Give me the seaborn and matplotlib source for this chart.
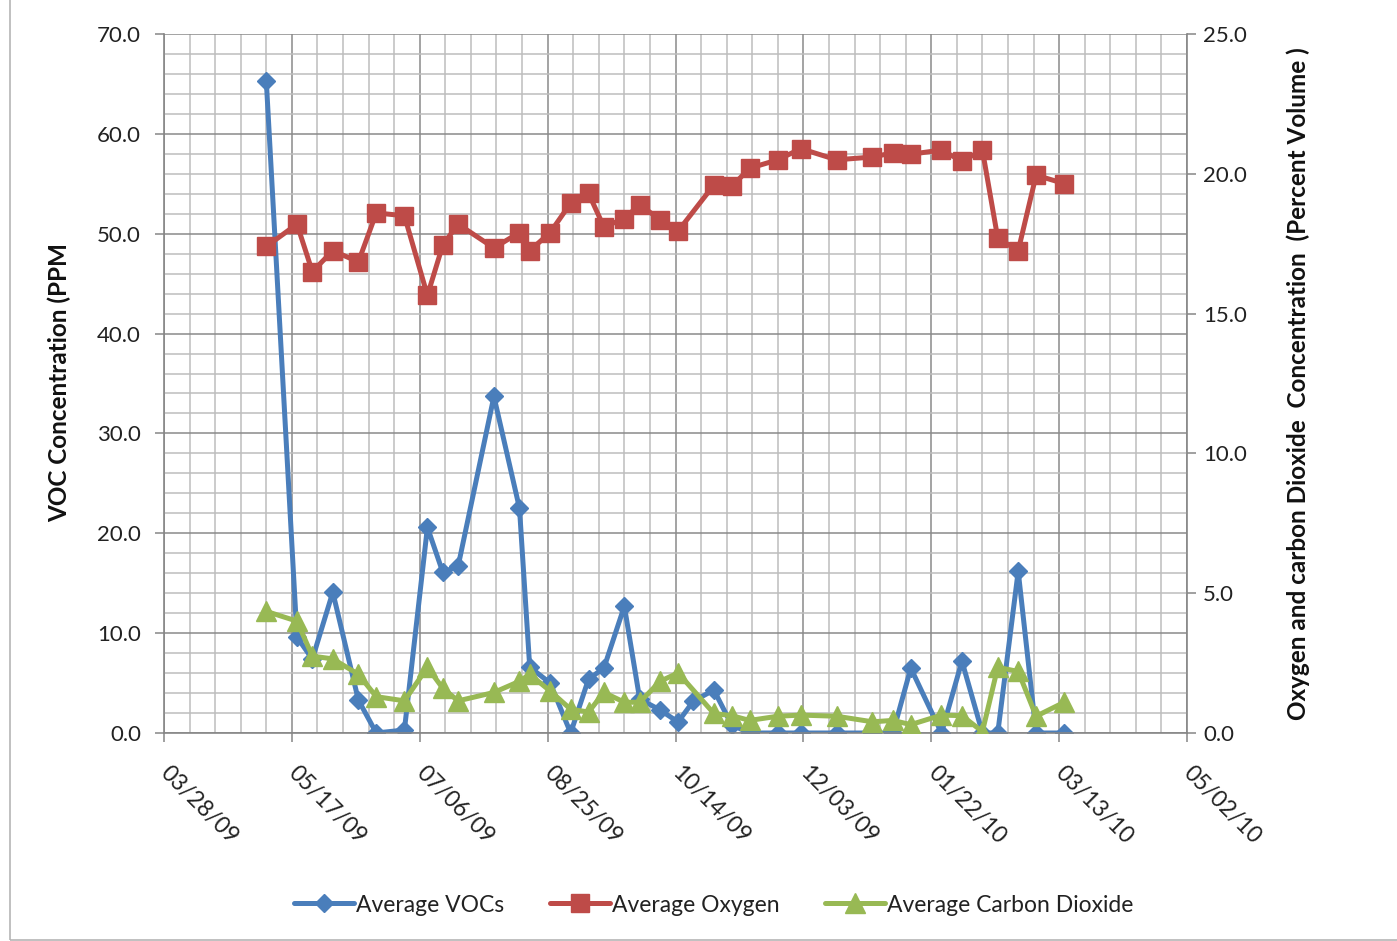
import matplotlib
matplotlib.use("Agg")
import matplotlib.pyplot as plt
import matplotlib.dates as mdates
from matplotlib.ticker import FixedLocator, MultipleLocator, FormatStrFormatter
from matplotlib.lines import Line2D
from matplotlib.patches import Rectangle
import seaborn as sns
import pandas as pd

# ---- sampling data -------------------------------------------------------
voc_dates = [
    "2009-05-07", "2009-05-19", "2009-05-25", "2009-06-02", "2009-06-12",
    "2009-06-19", "2009-06-30", "2009-07-09", "2009-07-15", "2009-07-21",
    "2009-08-04", "2009-08-14", "2009-08-18", "2009-08-26", "2009-09-03",
    "2009-09-10", "2009-09-16", "2009-09-24", "2009-09-30", "2009-10-08",
    "2009-10-15", "2009-10-21", "2009-10-29", "2009-11-05", "2009-11-12",
    "2009-11-23", "2009-12-02", "2009-12-16", "2009-12-30", "2010-01-07",
    "2010-01-14", "2010-01-26", "2010-02-03", "2010-02-11", "2010-02-17",
    "2010-02-25", "2010-03-04", "2010-03-15",
]
voc_ppm = [
    65.3, 9.6, 7.4, 14.1, 3.3,
    0.0, 0.3, 20.6, 16.1, 16.7,
    33.7, 22.5, 6.6, 5.0, 0.0,
    5.4, 6.5, 12.7, 3.4, 2.3,
    1.1, 3.2, 4.3, 0.8, 0.0,
    0.0, 0.0, 0.0, 0.0, 0.0,
    6.5, 0.0, 7.2, 0.0, 0.0,
    16.2, 0.0, 0.0,
]

gas_dates = [
    "2009-05-07", "2009-05-19", "2009-05-25", "2009-06-02", "2009-06-12",
    "2009-06-19", "2009-06-30", "2009-07-09", "2009-07-15", "2009-07-21",
    "2009-08-04", "2009-08-14", "2009-08-18", "2009-08-26", "2009-09-03",
    "2009-09-10", "2009-09-16", "2009-09-24", "2009-09-30", "2009-10-08",
    "2009-10-15", "2009-10-29", "2009-11-05", "2009-11-12", "2009-11-23",
    "2009-12-02", "2009-12-16", "2009-12-30", "2010-01-07", "2010-01-14",
    "2010-01-26", "2010-02-03", "2010-02-11", "2010-02-17", "2010-02-25",
    "2010-03-04", "2010-03-15",
]
oxygen_pct = [
    17.4, 18.2, 16.5, 17.25, 16.85,
    18.6, 18.5, 15.65, 17.45, 18.2,
    17.35, 17.9, 17.25, 17.9, 18.95,
    19.3, 18.1, 18.4, 18.9, 18.35,
    17.95, 19.6, 19.55, 20.2, 20.5,
    20.9, 20.5, 20.6, 20.75, 20.7,
    20.85, 20.45, 20.85, 17.7, 17.25,
    19.95, 19.65,
]
co2_pct = [
    4.35, 4.0, 2.75, 2.65, 2.1,
    1.3, 1.15, 2.35, 1.6, 1.15,
    1.45, 1.85, 2.1, 1.5, 0.85,
    0.75, 1.45, 1.1, 1.1, 1.85,
    2.15, 0.7, 0.62, 0.45, 0.6,
    0.64, 0.6, 0.4, 0.45, 0.3,
    0.64, 0.62, 0.05, 2.35, 2.2,
    0.6, 1.1,
]

x_tick_labels = ["03/28/09", "05/17/09", "07/06/09", "08/25/09", "10/14/09",
                 "12/03/09", "01/22/10", "03/13/10", "05/02/10"]

series_names = ["Average VOCs", "Average Oxygen", "Average Carbon Dioxide"]
series_colors = ["#4A7EBB", "#BE4B48", "#98B954"]

# ---- figure --------------------------------------------------------------
sns.set_theme(style="white")
plt.rcParams["font.family"] = ["Lato", "DejaVu Sans"]

W, H = 1397, 941
fig = plt.figure(figsize=(W / 100, H / 100), dpi=100)
fig.patches.append(Rectangle((10 / W, 1 / H), 1.0, 1.0, transform=fig.transFigure,
                             fill=False, edgecolor="#b5b5b5", linewidth=1.2))

ax = fig.add_axes([164 / W, 1 - 733 / H, (1187 - 164) / W, (733 - 34) / H])
ax2 = ax.twinx()

voc_df = pd.DataFrame({"date": pd.to_datetime(voc_dates), "value": voc_ppm})
gas_df = pd.DataFrame({"date": pd.to_datetime(gas_dates),
                       "oxygen": oxygen_pct, "co2": co2_pct})

lw = 3.6
sns.lineplot(data=voc_df, x="date", y="value", ax=ax, color=series_colors[0],
             linewidth=lw, marker="D", markersize=9.5, markeredgewidth=1.0,
             markeredgecolor=series_colors[0], legend=False)
sns.lineplot(data=gas_df, x="date", y="oxygen", ax=ax2, color=series_colors[1],
             linewidth=lw, marker="s", markersize=13, markeredgewidth=1.0,
             markeredgecolor=series_colors[1], legend=False)
sns.lineplot(data=gas_df, x="date", y="co2", ax=ax2, color=series_colors[2],
             linewidth=lw, marker="^", markersize=14, markeredgewidth=1.0,
             markeredgecolor=series_colors[2], legend=False)

# ---- x axis: dates every 50 days, grid every 10 days ---------------------
tick_dates = pd.to_datetime(x_tick_labels, format="%m/%d/%y")
major_x = mdates.date2num(tick_dates)
minor_x = [major_x[0] + 10 * k for k in range(int((major_x[-1] - major_x[0]) / 10) + 1)]
ax.set_xlim(major_x[0], major_x[-1])
ax.xaxis.set_major_locator(FixedLocator(major_x))
ax.xaxis.set_minor_locator(FixedLocator(minor_x))
ax.set_xticklabels(x_tick_labels)

# ---- y axes --------------------------------------------------------------
ax.set_ylim(0, 70)
ax.yaxis.set_major_locator(MultipleLocator(10))
ax.yaxis.set_minor_locator(MultipleLocator(2))
ax.yaxis.set_major_formatter(FormatStrFormatter("%.1f"))
ax2.set_ylim(0, 25)
ax2.yaxis.set_major_locator(MultipleLocator(5))
ax2.yaxis.set_major_formatter(FormatStrFormatter("%.1f"))

ax.grid(which="minor", color="#bdbdbd", linewidth=1.1)
ax.grid(which="major", color="#8a8a8a", linewidth=1.1)
ax.set_axisbelow(True)
ax2.grid(False)

for a in (ax, ax2):
    for s in a.spines.values():
        s.set_visible(False)
ax.spines["left"].set_visible(True)
ax.spines["bottom"].set_visible(True)
ax2.spines["right"].set_visible(True)
for s in (ax.spines["left"], ax.spines["bottom"], ax2.spines["right"]):
    s.set_color("#868686")
    s.set_linewidth(1.2)

tick_color = "#222222"
ax.tick_params(axis="y", which="major", direction="out", length=6.5, width=1.1,
               color="#868686", labelsize=16, labelcolor=tick_color, pad=10, left=True)
ax.tick_params(axis="y", which="minor", length=0)
ax2.tick_params(axis="y", which="major", direction="out", length=6.5, width=1.1,
                color="#868686", labelsize=16, labelcolor=tick_color, pad=5, right=True)
ax.tick_params(axis="x", which="major", direction="out", length=6.5, width=1.1,
               color="#868686", labelsize=16.5, labelcolor=tick_color, pad=20, bottom=True)
ax.tick_params(axis="x", which="minor", length=0)
for lbl in ax.get_xticklabels():
    lbl.set_rotation(-45)
    lbl.set_ha("left")
    lbl.set_va("center")
    lbl.set_rotation_mode("anchor")

ax.set_xlabel("")
ax.set_ylabel("VOC Concentration (PPM", fontsize=17.5, fontweight="bold", color="#111111")
ax.yaxis.set_label_coords(-0.0905, 0.502)
ax2.set_ylabel("Oxygen and carbon Dioxide  Concentration  (Percent Volume )",
               fontsize=17.5, fontweight="bold", color="#111111", rotation=90)
ax2.yaxis.set_label_coords(1.0975, 0.5)

# ---- legend --------------------------------------------------------------
handles = [
    Line2D([], [], color=series_colors[0], linewidth=lw, marker="D", markersize=9.5,
           markeredgecolor=series_colors[0]),
    Line2D([], [], color=series_colors[1], linewidth=lw, marker="s", markersize=13,
           markeredgecolor=series_colors[1]),
    Line2D([], [], color=series_colors[2], linewidth=lw, marker="^", markersize=14,
           markeredgecolor=series_colors[2]),
]
fig.legend(handles, series_names, loc="center", bbox_to_anchor=(714 / W, 1 - 905 / H),
           ncol=3, frameon=False, fontsize=16.5, handlelength=2.6, handletextpad=0.1,
           columnspacing=2.0, labelcolor="#222222")

fig.savefig("out.png", dpi=100)
